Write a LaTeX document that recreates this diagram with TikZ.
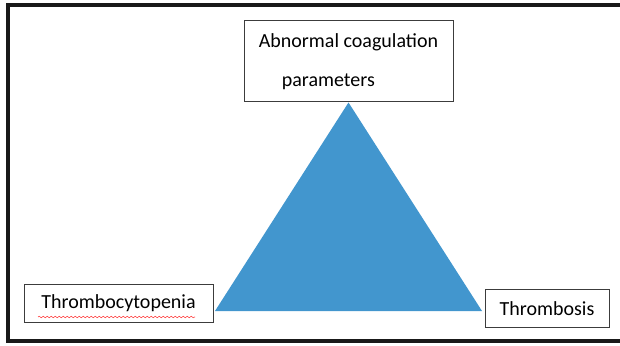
\documentclass[tikz,border=0pt]{standalone}
\usepackage{fontspec}
\setmainfont{Carlito}
\usetikzlibrary{positioning,decorations.pathmorphing}
\definecolor{triblue}{RGB}{66,150,206}
\definecolor{boxline}{RGB}{60,60,60}
\definecolor{frameline}{RGB}{25,25,25}
\tikzset{
  frame/.style={line width=4pt,frameline},
  lbox/.style={draw=boxline,line width=1pt,fill=white,inner sep=0pt,font=\fontsize{20}{39}\selectfont},
  tri/.style={fill=triblue,draw=none},
  spell/.style={red!70,line width=0.6pt,decorate,decoration={snake,amplitude=0.8pt,segment length=4pt}}
}
\begin{document}
\begin{tikzpicture}[x=1pt,y=1pt]
  \useasboundingbox (0,0) rectangle (620,345);
  % outer frame, open on the right
  \draw[frame] (626,340) -- (7.5,340) -- (7.5,4) -- (626,4);
  % the three boxes
  \node[lbox,minimum width=209,minimum height=81,align=left] (coag) at (348.5,283.5)
    {Abnormal coagulation\\\hspace*{23pt}parameters};
  \node[lbox,minimum width=189,minimum height=37] (thrcp) at (118.5,41.5) {Thrombocytopenia};
  \node[lbox,minimum width=124,minimum height=37] (thrb) at (547,36.5) {Thrombosis};
  % triangle between them
  \coordinate (apex) at (coag.south);
  \coordinate (bl) at (215,34);
  \coordinate (br) at (482,34);
  \fill[tri] (apex) -- (br) -- (bl) -- cycle;
  \draw[spell] (38,28) -- (195,28);
\end{tikzpicture}
\end{document}
